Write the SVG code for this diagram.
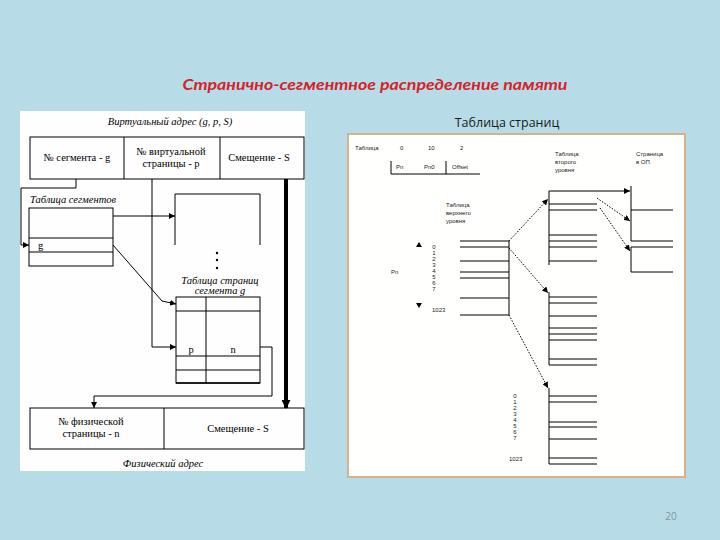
<svg xmlns="http://www.w3.org/2000/svg" width="720" height="540" viewBox="0 0 720 540">
<defs>
<style>
.ln{fill:none;stroke:#000;stroke-width:1}
.sr{font-family:"Liberation Serif",serif;font-size:10.5px;fill:#000}
.it{font-family:"Liberation Serif",serif;font-style:italic;font-size:10.5px;fill:#000}
.sm{font-family:"Liberation Sans",sans-serif;font-size:6px;fill:#222}
.dt{fill:none;stroke:#000;stroke-width:1;stroke-dasharray:1.5 1.5}
.mid{text-anchor:middle}
</style>
<marker id="ah" markerUnits="userSpaceOnUse" markerWidth="6" markerHeight="6" refX="6" refY="3" orient="auto"><path d="M0,0 L6,3 L0,6 z" fill="#000"/></marker>
<marker id="ahb" markerUnits="userSpaceOnUse" markerWidth="9" markerHeight="9" refX="8" refY="4.5" orient="auto"><path d="M0,0 L9,4.5 L0,9 z" fill="#000"/></marker>
</defs>
<rect width="720" height="540" fill="#b7dce7"/>
<text x="375" y="90" text-anchor="middle" font-family="Lato, 'Open Sans', sans-serif" font-weight="bold" font-style="italic" font-size="16" fill="#d5232b" textLength="385" lengthAdjust="spacingAndGlyphs">Странично-сегментное распределение памяти</text>
<text x="507" y="127" text-anchor="middle" font-family="'Open Sans', sans-serif" font-size="12.5" fill="#1a1a1a">Таблица страниц</text>
<text x="671" y="520" text-anchor="middle" font-family="'Open Sans', sans-serif" font-size="10" fill="#7f93a5">20</text>

<!-- Left panel -->
<rect x="20" y="111" width="285" height="360" fill="#fefefe"/>
<text x="170" y="125" class="it mid">Виртуальный адрес (g, p, S)</text>
<g id="virtual-address">
<rect x="30" y="137" width="274" height="42" class="ln"/>
<line x1="124" y1="137" x2="124" y2="179" class="ln"/>
<line x1="220" y1="137" x2="220" y2="179" class="ln"/>
<text x="77" y="161" class="sr mid">№ сегмента - g</text>
<text x="171" y="155" class="sr mid">№ виртуальной</text>
<text x="171" y="167" class="sr mid">страницы - p</text>
<text x="259" y="161" class="sr mid">Смещение - S</text>
</g>
<g id="segment-table">
<text x="30" y="203" class="it">Таблица сегментов</text>
<rect x="29" y="208" width="84" height="58" class="ln"/>
<line x1="29" y1="238" x2="113" y2="238" class="ln"/>
<line x1="29" y1="252" x2="113" y2="252" class="ln"/>
<text x="38" y="249" class="sr">g</text>
</g>
<g id="other-page-table">
<path d="M175,245 V194 H260 V245" class="ln"/>
<circle cx="217" cy="253" r="1.2"/>
<circle cx="217" cy="260" r="1.2"/>
<circle cx="217" cy="268" r="1.2"/>
</g>
<g id="page-table-g">
<text x="220" y="284" class="it mid">Таблица страниц</text>
<text x="220" y="294" class="it mid">сегмента g</text>
<rect x="176" y="297" width="84" height="86" class="ln"/>
<line x1="176" y1="311" x2="260" y2="311" class="ln"/>
<line x1="176" y1="356" x2="260" y2="356" class="ln"/>
<line x1="176" y1="370" x2="260" y2="370" class="ln"/>
<line x1="206" y1="297" x2="206" y2="383" class="ln"/>
<line x1="176" y1="383" x2="260" y2="383" stroke="#000" stroke-width="1.6"/>
<text x="191" y="353" class="sr mid">p</text>
<text x="233" y="353" class="sr mid">n</text>
</g>
<g id="physical-address">
<rect x="30" y="408" width="274" height="41" class="ln"/>
<line x1="164" y1="408" x2="164" y2="449" class="ln"/>
<text x="91" y="425" class="sr mid">№ физической</text>
<text x="91" y="437" class="sr mid">страницы - n</text>
<text x="238" y="432" class="sr mid">Смещение - S</text>
<text x="163" y="467" class="it mid">Физический адрес</text>
</g>
<g id="left-connectors">
<polyline points="76,179 76,188 21,188 21,245 29,245" class="ln" marker-end="url(#ah)"/>
<line x1="113" y1="216" x2="175" y2="216" class="ln" marker-end="url(#ah)"/>
<polyline points="113,245 162,301 176,304" class="ln" marker-end="url(#ah)"/>
<polyline points="152,179 152,347 176,347" class="ln" marker-end="url(#ah)"/>
<polyline points="260,347 272,347 272,396 94,396 94,408" class="ln" marker-end="url(#ah)"/>
<line x1="286" y1="179" x2="286" y2="408" stroke="#000" stroke-width="4" marker-end="url(#ahb)"/>
</g>

<!-- Right panel -->
<rect x="348" y="134" width="337" height="343" fill="#fffffd" stroke="#d6b38c" stroke-width="2"/>
<g id="linear-address">
<text x="355" y="150" class="sm">Таблица</text>
<text x="400" y="150" class="sm">0</text>
<text x="428" y="150" class="sm">10</text>
<text x="460" y="150" class="sm">2</text>
<path d="M391,161 V174 H480" class="ln"/>
<line x1="446" y1="161" x2="446" y2="174" class="ln"/>
<text x="396" y="169" class="sm">Pn</text>
<text x="424" y="169" class="sm">Pn0</text>
<text x="452" y="169" class="sm">Offset</text>
</g>
<g id="top-level-table">
<text x="446" y="207" class="sm">Таблица</text>
<text x="446" y="215" class="sm">верхнего</text>
<text x="446" y="223" class="sm">уровня</text>
<path d="M460,241 H509 V315 H460 M460,247 H509 M460,261 H509 M460,272 H509 M460,278 H509 M460,298 H509" class="ln"/>
<polygon points="416,247 419,242 422,247" fill="#000"/>
<polygon points="416,303 422,303 419,308" fill="#000"/>
<text x="391" y="274" class="sm">Pn</text>
<g class="sm" text-anchor="middle">
<text x="434" y="249">0</text><text x="434" y="255">1</text><text x="434" y="261">2</text><text x="434" y="267">3</text>
<text x="434" y="273">4</text><text x="434" y="279">5</text><text x="434" y="285">6</text><text x="434" y="291">7</text>
</g>
<text x="432" y="312" class="sm">1023</text>
</g>
<g id="second-level-table-a">
<text x="555" y="156" class="sm">Таблица</text>
<text x="555" y="164" class="sm">второго</text>
<text x="555" y="172" class="sm">уровня</text>
<path d="M549,191 V265 M549,204 H597 M549,210 H597 M549,235 H597 M549,241 H597 M549,247 H597 M549,261 H597" class="ln"/>
</g>
<g id="second-level-table-b">
<path d="M549,292 V365 M549,297 H597 M549,303 H597 M549,316 H597 M549,328 H597 M549,334 H597 M549,340 H597 M549,359 H597 M549,365 H597" class="ln"/>
</g>
<g id="second-level-table-c">
<path d="M549,388 V464 M549,396 H597 M549,402 H597 M549,422 H597 M549,427 H597 M549,439 H597 M549,458 H597 M549,464 H597" class="ln"/>
<g class="sm" text-anchor="middle">
<text x="515" y="398">0</text><text x="515" y="404">1</text><text x="515" y="410">2</text><text x="515" y="416">3</text>
<text x="515" y="422">4</text><text x="515" y="428">5</text><text x="515" y="434">6</text><text x="515" y="440">7</text>
</g>
<text x="509" y="461" class="sm">1023</text>
</g>
<g id="pages">
<text x="636" y="156" class="sm">Страница</text>
<text x="636" y="164" class="sm">в ОП</text>
<path d="M631,186 V241 M631,210 H673 M631,241 H673 M631,247 H673 M631,247 V272 H673" class="ln"/>
</g>
<g id="right-connectors">
<line x1="549" y1="191" x2="630" y2="191" class="ln" marker-end="url(#ah)"/>
<line x1="509" y1="241" x2="548" y2="199" class="dt" marker-end="url(#ah)"/>
<line x1="509" y1="248" x2="548" y2="293" class="dt" marker-end="url(#ah)"/>
<line x1="509" y1="315" x2="548" y2="388" class="dt" marker-end="url(#ah)"/>
<line x1="597" y1="198" x2="630" y2="221" class="dt" marker-end="url(#ah)"/>
<line x1="600" y1="208" x2="630" y2="251" class="dt" marker-end="url(#ah)"/>
</g>
</svg>
